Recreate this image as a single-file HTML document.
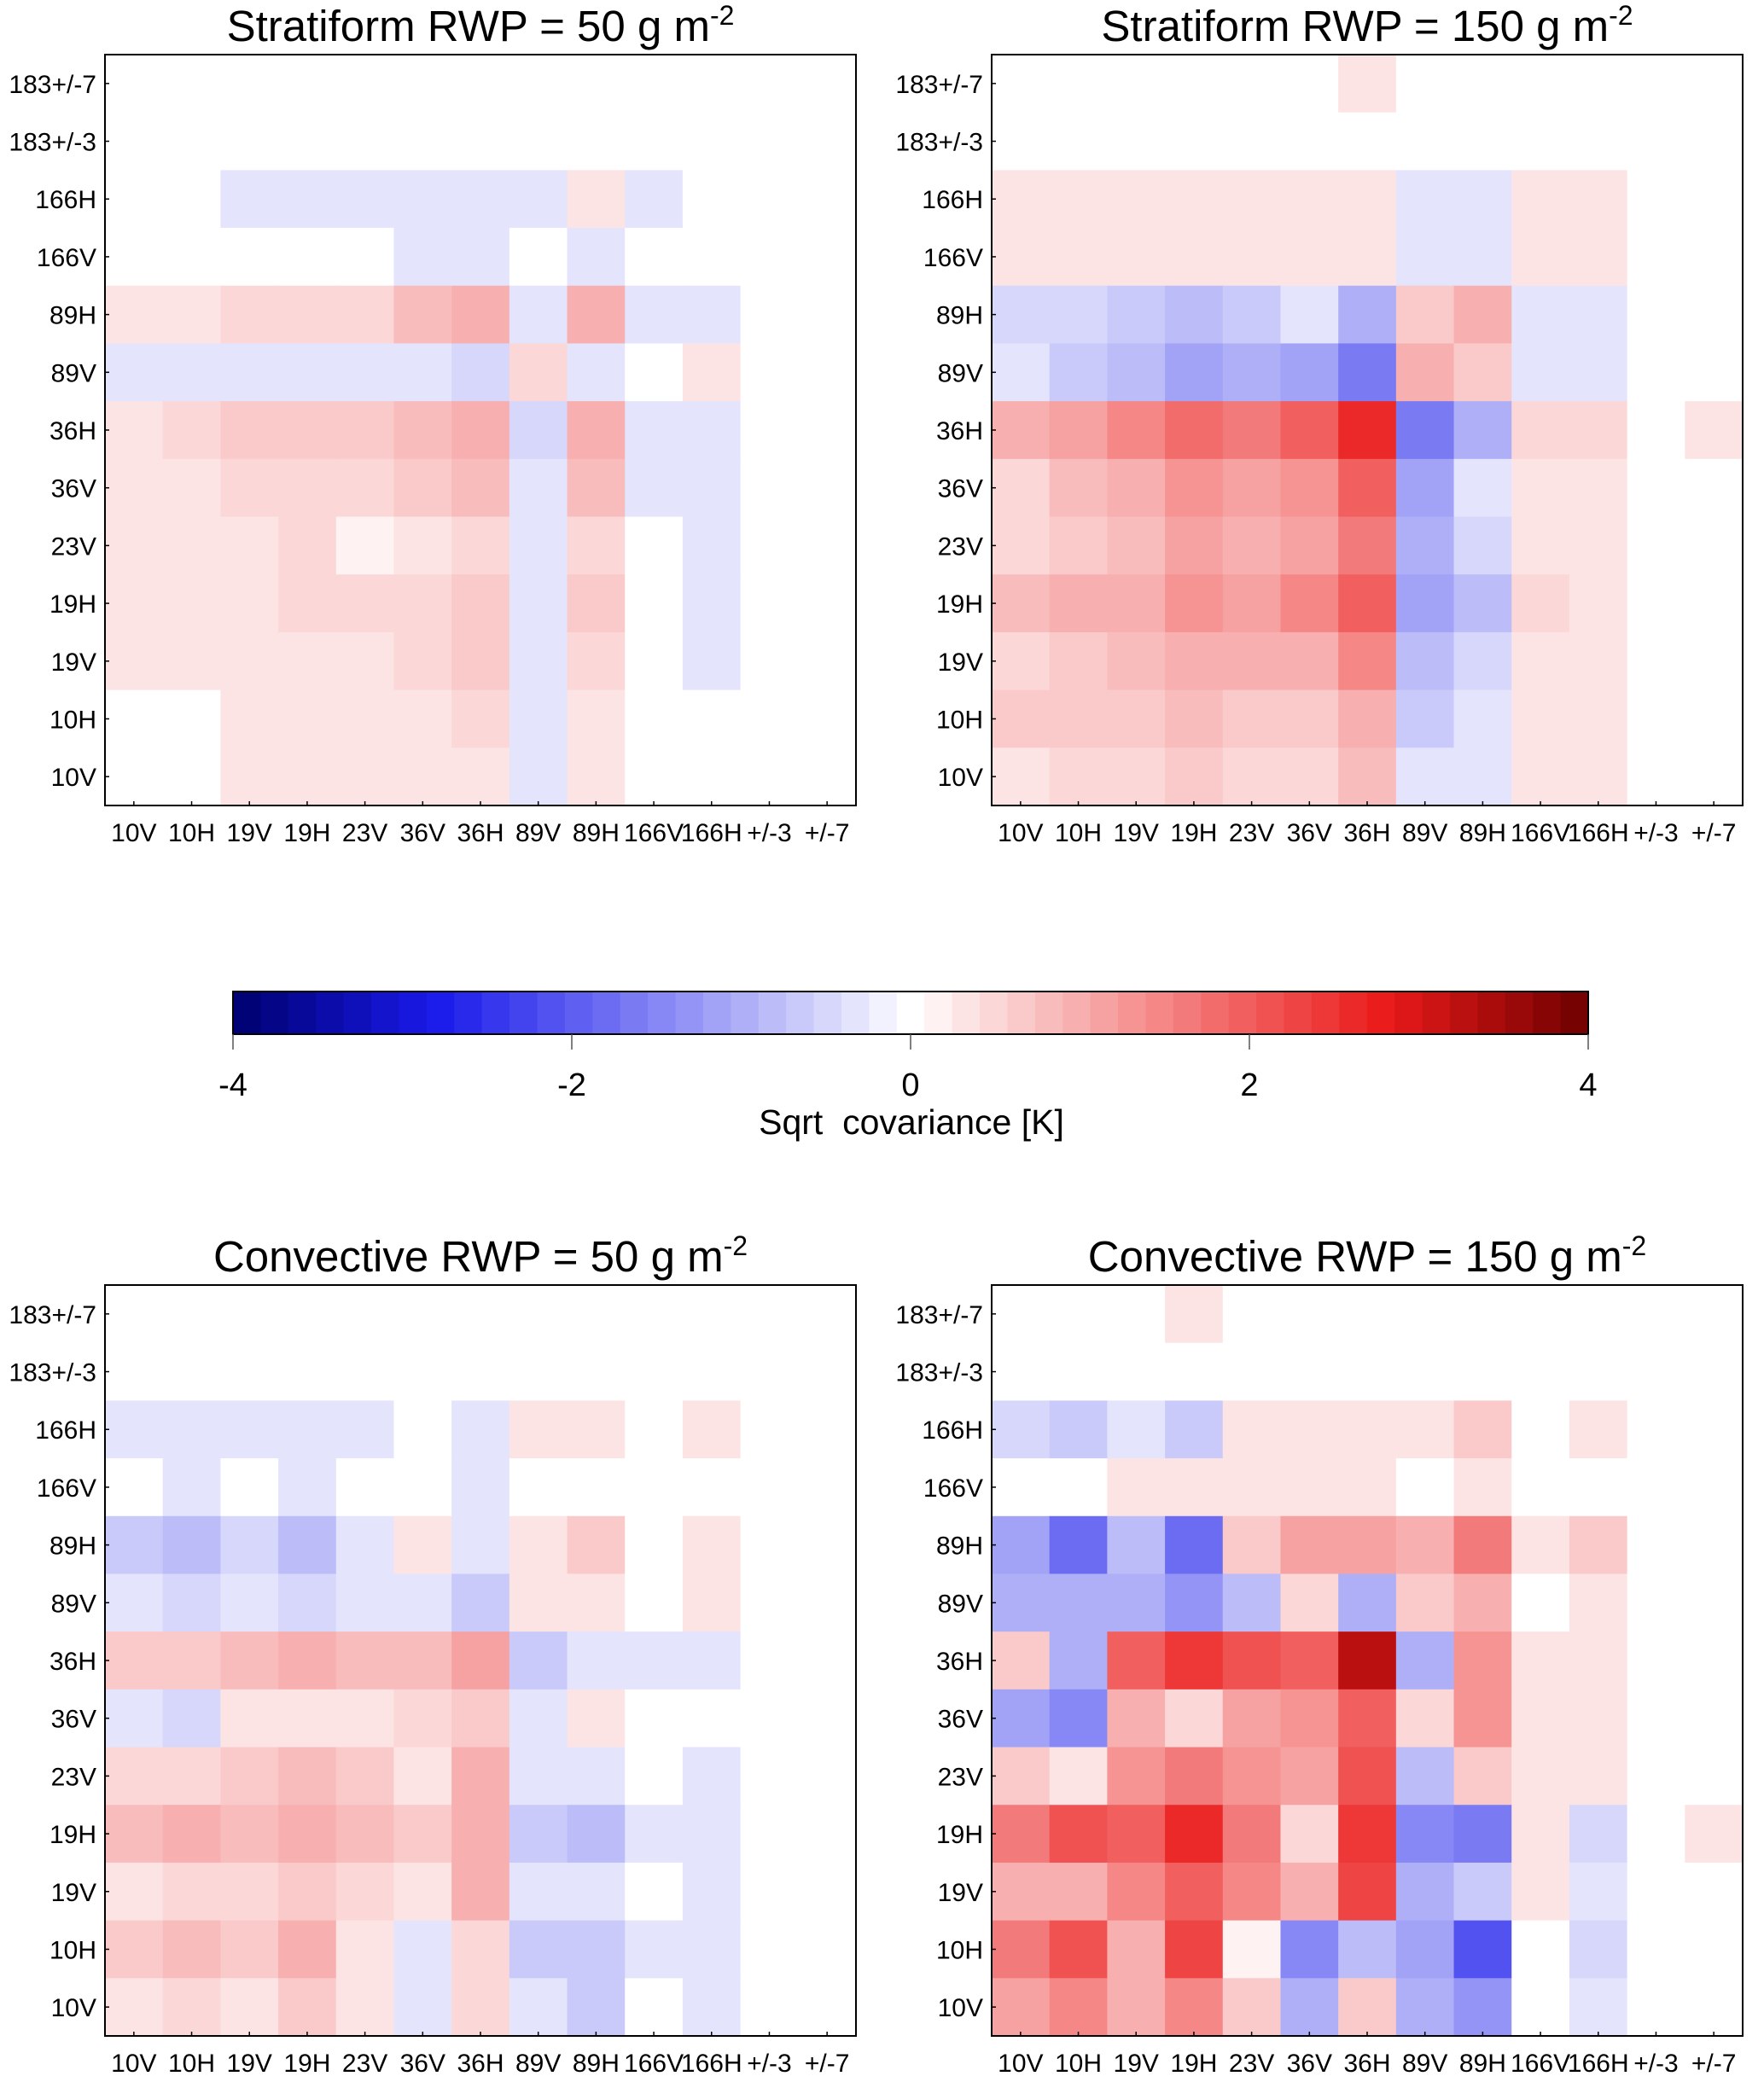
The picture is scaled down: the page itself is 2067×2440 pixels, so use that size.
<!DOCTYPE html>
<html><head><meta charset="utf-8"><style>
html,body{margin:0;padding:0;background:#fff;}
svg{display:block;font-family:"Liberation Sans",sans-serif;}
</style></head><body>
<svg id="fig" width="2067" height="2440" viewBox="0 0 2067 2440" xmlns="http://www.w3.org/2000/svg"></svg>
<script>
const channels = ["10V","10H","19V","19H","23V","36V","36H","89V","89H","166V","166H","+/-3","+/-7"];
const yChannels = ["10V","10H","19V","19H","23V","36V","36H","89V","89H","166V","166H","183+/-3","183+/-7"];
// rows listed top (183+/-7) to bottom (10V)
const stratiform50 = [
[0,0,0,0,0,0,0,0,0,0,0,0,0],
[0,0,0,0,0,0,0,0,0,0,0,0,0],
[0,0,-.33,-.33,-.33,-.33,-.33,-.33,.33,-.33,0,0,0],
[0,0,0,0,0,-.33,-.33,0,-.33,0,0,0,0],
[.33,.33,.5,.5,.5,.75,1.0,-.33,1.0,-.33,-.33,0,0],
[-.33,-.33,-.33,-.4,-.4,-.4,-.5,.5,-.4,0,.33,0,0],
[.33,.5,.6,.6,.6,.75,1.0,-.5,1.0,-.33,-.33,0,0],
[.33,.33,.5,.5,.5,.6,.75,-.33,.75,-.33,-.33,0,0],
[.33,.33,.33,.5,.2,.33,.5,-.33,.5,0,-.33,0,0],
[.33,.33,.33,.5,.5,.5,.6,-.33,.6,0,-.33,0,0],
[.33,.33,.33,.33,.33,.5,.6,-.25,.5,0,-.33,0,0],
[0,0,.33,.33,.33,.33,.5,-.25,.33,0,0,0,0],
[0,0,.33,.33,.33,.33,.33,-.25,.33,0,0,0,0]];
const stratiform150 = [
[0,0,0,0,0,0,.33,0,0,0,0,0,0],
[0,0,0,0,0,0,0,0,0,0,0,0,0],
[.33,.33,.33,.33,.33,.33,.4,-.25,-.25,.33,.33,0,0],
[.33,.33,.33,.4,.33,.33,.4,-.25,-.4,.33,.33,0,0],
[-.5,-.5,-.6,-.75,-.6,-.4,-.9,.6,.9,-.4,-.33,0,0],
[-.4,-.6,-.75,-1.1,-.9,-1.2,-1.7,1.0,.6,-.33,-.33,0,0],
[1.0,1.1,1.4,1.8,1.6,1.9,2.6,-1.7,-.9,.5,.5,0,.33],
[.5,.75,1.0,1.3,1.1,1.3,1.9,-1.1,-.33,.33,.33,0,0],
[.5,.6,.75,1.1,1.0,1.1,1.6,-.9,-.5,.33,.33,0,0],
[.75,.9,1.0,1.3,1.1,1.4,2.0,-1.2,-.75,.5,.33,0,0],
[.5,.6,.75,1.0,.9,1.0,1.5,-.75,-.5,.33,.33,0,0],
[.6,.6,.6,.75,.6,.6,1.0,-.6,-.33,.33,.33,0,0],
[.33,.5,.5,.6,.5,.5,.75,-.4,-.4,.33,.33,0,0]];
const convective50 = [
[0,0,0,0,0,0,0,0,0,0,0,0,0],
[0,0,0,0,0,0,0,0,0,0,0,0,0],
[-.33,-.33,-.33,-.4,-.33,0,-.33,.33,.33,0,.33,0,0],
[0,-.33,0,-.33,0,0,-.33,0,0,0,0,0,0],
[-.6,-.75,-.5,-.75,-.25,.4,-.4,.4,.6,0,.33,0,0],
[-.4,-.5,-.4,-.5,-.4,-.25,-.6,.4,.4,0,.33,0,0],
[.6,.6,.8,.9,.85,.75,1.2,-.6,-.4,-.33,-.33,0,0],
[-.33,-.5,.4,.4,.4,.5,.6,-.25,.4,0,0,0,0],
[.5,.5,.6,.75,.6,.4,.9,-.4,-.25,0,-.33,0,0],
[.75,.9,.75,1.0,.75,.6,1.0,-.6,-.75,-.25,-.4,0,0],
[.4,.5,.5,.6,.5,.4,.9,-.4,-.4,0,-.33,0,0],
[.6,.75,.6,.9,.4,-.4,.5,-.6,-.6,-.33,-.33,0,0],
[.4,.5,.33,.6,.4,-.25,.5,-.4,-.6,0,-.33,0,0]];
const convective150 = [
[0,0,0,.33,0,0,0,0,0,0,0,0,0],
[0,0,0,0,0,0,0,0,0,0,0,0,0],
[-.5,-.6,-.33,-.6,.33,.4,.4,.4,.6,0,.33,0,0],
[0,0,.33,.33,.33,.33,.33,0,.33,0,0,0,0],
[-1.2,-1.8,-.75,-1.8,.6,1.1,1.1,.9,1.6,.33,.6,0,0],
[-.9,-1.0,-.9,-1.3,-.75,.5,-1.0,.6,.9,0,.4,0,0],
[.6,-1.0,2.0,2.4,2.1,2.0,3.3,-1.0,1.3,.33,.4,0,0],
[-1.1,-1.4,1.0,.5,1.2,1.3,2.0,.5,1.3,.33,.4,0,0],
[.6,.25,1.3,1.6,1.3,1.1,2.1,-.75,.6,.33,.33,0,0],
[1.7,2.2,1.9,2.6,1.7,.5,2.4,-1.4,-1.7,.33,-.5,0,.33],
[.9,1.0,1.4,2.0,1.4,.9,2.3,-.9,-.6,.33,-.25,0,0],
[1.6,2.2,1.0,2.3,.2,-1.4,-.75,-1.2,-2.1,0,-.5,0,0],
[1.1,1.5,.9,1.5,.6,-1.0,.6,-.9,-1.3,0,-.4,0,0]];
const cbTicks = [-4,-2,0,2,4];

const NS="http://www.w3.org/2000/svg";
const svg=document.getElementById('fig');
function mk(tag,attrs,parent){const e=document.createElementNS(NS,tag);for(const k in attrs)e.setAttribute(k,attrs[k]);(parent||svg).appendChild(e);return e;}
const STEP=8/49;
function color(v){
  const n=Math.round(v/STEP);
  if(n===0)return '#ffffff';
  const t=Math.min(1,Math.abs(n)*STEP/4);
  let a,b;
  if(t<=0.7){a=255-Math.round(20*t/0.7);b=Math.round(255*(1-t/0.78));}
  else{a=Math.round(235-(t-0.7)/0.3*125);b=Math.round(255*(1-0.7/0.78)*(1-(t-0.7)/0.3));}
  return v>0?`rgb(${a},${b},${b})`:`rgb(${b},${b},${a})`;
}
const panels=[
 {d:stratiform50,x:123,y:64,t:"Stratiform RWP = 50 g m",n:"stratiform-50"},
 {d:stratiform150,x:1162,y:64,t:"Stratiform RWP = 150 g m",n:"stratiform-150"},
 {d:convective50,x:123,y:1506,t:"Convective RWP = 50 g m",n:"convective-50"},
 {d:convective150,x:1162,y:1506,t:"Convective RWP = 150 g m",n:"convective-150"}];
const W=880,H=880,N=13,cw=W/N,ch=H/N;
panels.forEach(p=>{
  const g=mk('g',{});
  
  
  const xs=i=>p.x+i*cw, ys=r=>p.y+r*ch;
  p.d.forEach((row,r)=>row.forEach((v,c)=>{
    const rc=mk('rect',{x:xs(c),y:ys(r),width:cw+0.6,height:ch+0.6,fill:color(v)},g);
    
    
  }));
  const fr=mk('rect',{x:p.x,y:p.y,width:W,height:H,fill:'none',stroke:'#000','stroke-width':2},g);
  
  
  const tt=mk('text',{x:p.x+W/2,y:p.y-16,'text-anchor':'middle','font-size':51},g);
  
  
  tt.textContent=p.t;
  const sup=mk('tspan',{'font-size':32,dy:-19},tt);sup.textContent='-2';
  for(let i=0;i<N;i++){
    const cx=xs(i)+cw/2;
    mk('line',{x1:cx,y1:p.y+H,x2:cx,y2:p.y+H-5,stroke:'#000','stroke-width':1.5},g);
    const xl=mk('text',{x:cx,y:p.y+H+42,'text-anchor':'middle','font-size':30},g);
    
    
    xl.textContent=channels[i];
    const cy=ys(N-1-i)+ch/2;
    mk('line',{x1:p.x,y1:cy,x2:p.x+5,y2:cy,stroke:'#000','stroke-width':1.5},g);
    const yl=mk('text',{x:p.x-10,y:cy+11,'text-anchor':'end','font-size':30},g);
    
    
    yl.textContent=yChannels[i];
  }
});
// colorbar
const cb=mk('g',{});


const cbx0=273,cbx1=1861,cby=1162,cbh=50;
const cbs=v=>cbx0+(v+4)/8*(cbx1-cbx0);
for(let k=-24;k<=24;k++){
  const lo=(k-0.5)*STEP, hi=(k+0.5)*STEP;
  const a=Math.max(-4,lo),b=Math.min(4,hi);
  mk('rect',{x:cbs(a),y:cby,width:cbs(b)-cbs(a)+0.6,height:cbh,fill:color(k*STEP)},cb);
}
mk('rect',{x:cbx0,y:cby,width:cbx1-cbx0,height:cbh,fill:'none',stroke:'#000','stroke-width':2},cb);
cbTicks.forEach(t=>{
  mk('line',{x1:cbs(t),y1:cby+cbh,x2:cbs(t),y2:cby+cbh+18,stroke:'#555','stroke-width':1.5},cb);
  const tl=mk('text',{x:cbs(t),y:cby+cbh+72,'text-anchor':'middle','font-size':38},cb);
  
  
  tl.textContent=String(t);
});
const cl=mk('text',{x:1068,y:1329,'text-anchor':'middle','font-size':41},cb);


cl.textContent='Sqrt\u00a0 covariance [K]';
</script>
</body></html>
